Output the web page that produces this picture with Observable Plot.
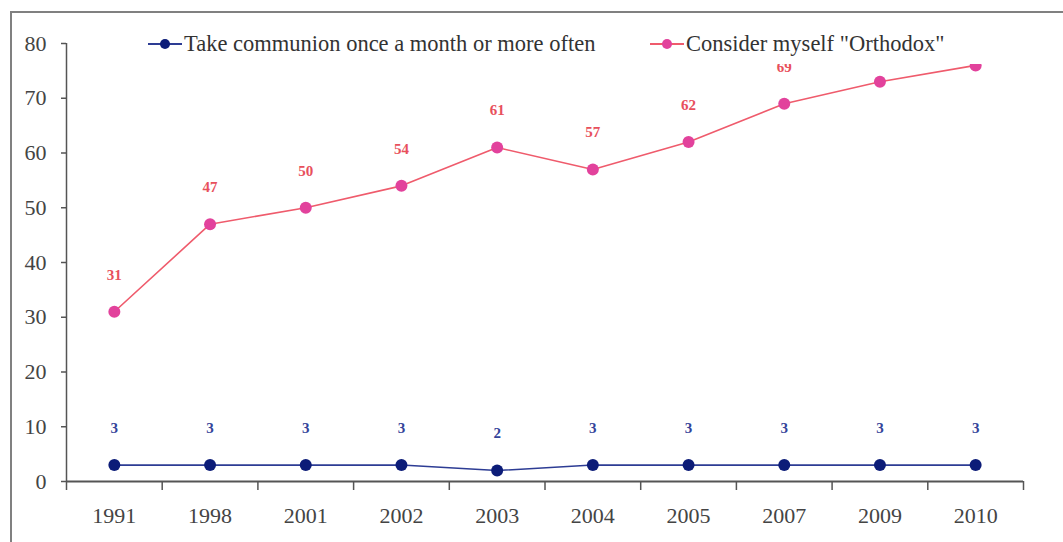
<!DOCTYPE html>
<html>
<head>
<meta charset="utf-8">
<script src="https://cdn.jsdelivr.net/npm/d3@7"></script>
<script src="https://cdn.jsdelivr.net/npm/@observablehq/plot@0.6"></script>
<style>
  html, body { margin: 0; padding: 0; background: #fff; }
  #wrap { position: relative; width: 1063px; height: 542px; overflow: hidden; }
  #frame { position: absolute; left: 10px; top: 11px; width: 1100px; height: 600px;
           border-left: 2.5px solid #808080; border-top: 2.5px solid #808080; pointer-events: none; }
  #legend { position: absolute; left: 135px; top: 23px; width: 870px; height: 41px; background: #fff;
            font-family: "Liberation Serif", "Times New Roman", serif; font-size: 22.5px; color: #333; }
  .item { position: absolute; top: 8px; display: flex; align-items: center; white-space: nowrap; }
  .mk { position: relative; width: 34px; height: 20px; margin-right: 2px; }
  .mk .ln { position: absolute; left: 0; right: 0; top: 9px; height: 2px; }
  .mk .dt { position: absolute; left: 12px; top: 5px; width: 10px; height: 10px; border-radius: 50%; }
</style>
</head>
<body>
<div id="wrap">
  <div id="chart"></div>
  <div id="legend"></div>
  <div id="frame"></div>
</div>
<script>
const years = ["1991", "1998", "2001", "2002", "2003", "2004", "2005", "2007", "2009", "2010"];
const communion = [3, 3, 3, 3, 2, 3, 3, 3, 3, 3];
const orthodox = [31, 47, 50, 54, 61, 57, 62, 69, 73, 76];
const seriesNames = ["Take communion once a month or more often", "Consider myself \"Orthodox\""];
const yTicks = [0, 10, 20, 30, 40, 50, 60, 70, 80];

const lineColors = ["#2d3c94", "#ef5b6c"];
const dotColors = ["#0c1c78", "#e2429c"];
const labelColors = ["#34449a", "#e8505c"];

const rows = [];
years.forEach((yr, i) => {
  rows.push({series: seriesNames[0], idx: i, year: yr, value: communion[i]});
  rows.push({series: seriesNames[1], idx: i, year: yr, value: orthodox[i]});
});
const boundaries = d3.range(years.length + 1).map(i => i - 0.5);
const font = "Liberation Serif, Times New Roman, serif";

const chart = Plot.plot({
  width: 1063,
  height: 542,
  marginLeft: 66,
  marginRight: 40,
  marginTop: 43,
  marginBottom: 61,
  style: {fontFamily: font, background: "transparent"},
  x: {type: "linear", domain: [-0.5, years.length - 0.5]},
  y: {domain: [0, 80]},
  color: {domain: seriesNames, range: lineColors},
  marks: [
    Plot.axisY(yTicks, {tickSize: 5, tickPadding: 15, fontSize: 22, color: "#444", stroke: "#555", strokeWidth: 1.5, label: null}),
    Plot.axisX(d3.range(years.length), {tickSize: 0, tickPadding: 26, fontSize: 22, color: "#444", tickFormat: i => years[i], label: null}),
    Plot.axisX(boundaries, {tickSize: 9, tickFormat: () => "", stroke: "#555", strokeWidth: 1.5, label: null}),
    Plot.ruleX([-0.5], {y1: 0, y2: 80, stroke: "#555", strokeWidth: 1.5}),
    Plot.ruleY([0], {stroke: "#555", strokeWidth: 2}),
    Plot.line(rows, {x: "idx", y: "value", z: "series", stroke: "series", strokeWidth: 1.6}),
    Plot.dot(rows, {x: "idx", y: "value", r: 6, fill: d => dotColors[seriesNames.indexOf(d.series)], stroke: "none"}),
    Plot.text(rows, {x: "idx", y: "value", text: d => String(d.value), dy: -37, fontSize: 15, fontWeight: "bold",
      fill: d => labelColors[seriesNames.indexOf(d.series)], textAnchor: "middle", lineAnchor: "middle"})
  ]
});
document.getElementById("chart").appendChild(chart);

const legend = document.getElementById("legend");
const lefts = [13, 515];
seriesNames.forEach((name, i) => {
  const item = document.createElement("div");
  item.className = "item";
  item.style.left = lefts[i] + "px";
  item.innerHTML = `<div class="mk"><div class="ln" style="background:${lineColors[i]}"></div><div class="dt" style="background:${dotColors[i]}"></div></div>`;
  const span = document.createElement("span");
  span.textContent = name;
  item.appendChild(span);
  legend.appendChild(item);
});
</script>
</body>
</html>
